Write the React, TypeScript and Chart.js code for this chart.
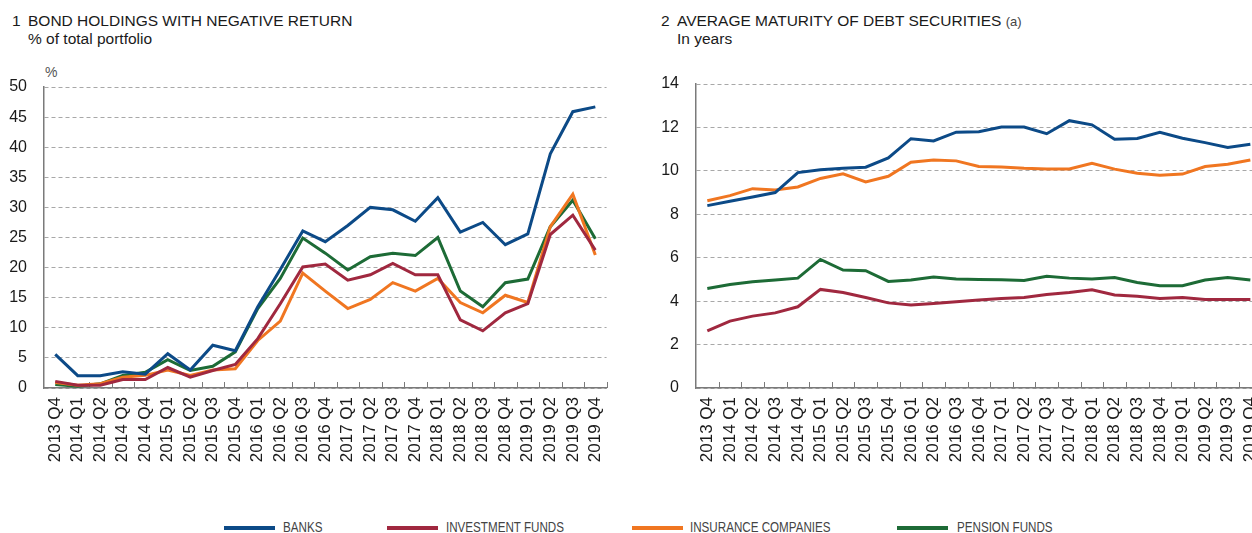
import React, { useEffect, useRef } from "react";
import { Chart, registerables } from "chart.js";

Chart.register(...registerables);

const categories = [
  "2013 Q4", "2014 Q1", "2014 Q2", "2014 Q3", "2014 Q4",
  "2015 Q1", "2015 Q2", "2015 Q3", "2015 Q4",
  "2016 Q1", "2016 Q2", "2016 Q3", "2016 Q4",
  "2017 Q1", "2017 Q2", "2017 Q3", "2017 Q4",
  "2018 Q1", "2018 Q2", "2018 Q3", "2018 Q4",
  "2019 Q1", "2019 Q2", "2019 Q3", "2019 Q4",
];

const seriesNames = ["BANKS", "INVESTMENT FUNDS", "INSURANCE COMPANIES", "PENSION FUNDS"];

// Chart 1: bond holdings with negative return (% of total portfolio)
const negBanks = [5.6, 2.05, 2.05, 2.7, 2.3, 5.7, 3.0, 7.1, 6.2, 13.5, 19.7, 26.1, 24.3, 27.0, 30.0, 29.6, 27.7, 31.6, 25.9, 27.5, 23.8, 25.6, 38.9, 45.9, 46.7];
const negInvestment = [1.1, 0.45, 0.45, 1.4, 1.4, 3.4, 1.8, 2.9, 3.9, 8.2, 14.0, 20.1, 20.6, 17.9, 18.8, 20.7, 18.8, 18.8, 11.3, 9.5, 12.5, 14.0, 25.5, 28.7, 22.9];
const negInsurance = [0.9, 0.45, 0.7, 1.8, 2.1, 3.0, 2.1, 3.0, 3.2, 7.9, 11.1, 19.1, 16.1, 13.2, 14.7, 17.5, 16.1, 18.2, 14.2, 12.5, 15.4, 14.2, 26.8, 32.2, 22.1];
const negPension = [0.6, 0.3, 0.7, 2.1, 2.6, 4.7, 2.9, 3.6, 6.0, 13.2, 18.2, 24.9, 22.4, 19.6, 21.8, 22.4, 22.0, 25.0, 16.1, 13.5, 17.5, 18.1, 26.8, 31.2, 24.8];
const negTicks = { min: 0, max: 50, step: 5 };

// Chart 2: average maturity of debt securities (years)
const matBanks = [8.4, 8.6, 8.8, 9.0, 9.92, 10.05, 10.12, 10.17, 10.6, 11.48, 11.38, 11.78, 11.8, 12.02, 12.02, 11.71, 12.31, 12.12, 11.46, 11.49, 11.77, 11.5, 11.3, 11.08, 11.23];
const matInvestment = [2.63, 3.08, 3.31, 3.46, 3.74, 4.54, 4.4, 4.17, 3.92, 3.82, 3.89, 3.97, 4.05, 4.12, 4.17, 4.31, 4.4, 4.52, 4.28, 4.23, 4.12, 4.17, 4.08, 4.08, 4.08];
const matInsurance = [8.62, 8.86, 9.18, 9.12, 9.26, 9.65, 9.86, 9.49, 9.75, 10.4, 10.5, 10.46, 10.2, 10.18, 10.12, 10.09, 10.09, 10.35, 10.08, 9.89, 9.8, 9.85, 10.2, 10.3, 10.5];
const matPension = [4.58, 4.77, 4.89, 4.97, 5.06, 5.92, 5.43, 5.4, 4.91, 4.97, 5.11, 5.02, 5.0, 4.98, 4.95, 5.15, 5.06, 5.02, 5.09, 4.86, 4.71, 4.71, 4.97, 5.09, 4.97];
const matTicks = { min: 0, max: 14, step: 2 };

const COLORS = ["#0c4a87", "#a0283f", "#f07621", "#1d6b36"];
const AXIS = "#7a7a7a";
const TEXT = "#1a1a1a";
const SANS = "'Liberation Sans', Arial, Helvetica, sans-serif";

const innerTicks = {
  id: "innerTicks",
  beforeDatasetsDraw(chart: any) {
    const xs = chart.scales.x;
    const { ctx, chartArea } = chart;
    ctx.save();
    ctx.strokeStyle = AXIS;
    ctx.lineWidth = 1;
    ctx.beginPath();
    for (let i = 0; i < categories.length; i++) {
      const px = Math.round(xs.getPixelForValue(i + 0.5)) + 0.5;
      ctx.moveTo(px, chartArea.bottom);
      ctx.lineTo(px, chartArea.bottom - 6);
    }
    ctx.stroke();
    ctx.restore();
  },
};

type Geo = { yAxisWidth: number; top: number; right: number; xAxisHeight: number };

function buildChart(canvas: HTMLCanvasElement, series: number[][], ticks: { min: number; max: number; step: number }, geo: Geo) {
  return new Chart(canvas, {
    type: "line",
    data: {
      labels: categories,
      datasets: series.map((d, i) => ({
        label: seriesNames[i],
        data: d,
        borderColor: COLORS[i],
        backgroundColor: COLORS[i],
        borderWidth: 3,
        pointRadius: 0,
        tension: 0,
        fill: false,
      })),
    },
    options: {
      animation: false,
      responsive: false,
      maintainAspectRatio: false,
      devicePixelRatio: 1,
      layout: { padding: { top: geo.top, right: geo.right, left: 0, bottom: 0 } },
      plugins: { legend: { display: false }, tooltip: { enabled: false }, title: { display: false } },
      scales: {
        x: {
          type: "category",
          offset: true,
          grid: { display: false, drawTicks: false },
          border: { display: true, color: AXIS, width: 1.5 },
          ticks: {
            autoSkip: false,
            minRotation: 90,
            maxRotation: 90,
            padding: 9,
            color: TEXT,
            font: { family: SANS, size: 17 },
          },
          afterFit: (s: any) => { s.height = geo.xAxisHeight; },
        },
        y: {
          min: ticks.min,
          max: ticks.max,
          grid: { color: "#a8a8a8", lineWidth: 1, drawTicks: false, tickLength: 0 },
          border: { display: true, color: AXIS, width: 1.5, dash: [4, 3] },
          ticks: {
            stepSize: ticks.step,
            padding: 17,
            color: TEXT,
            font: { family: SANS, size: 16 },
          },
          afterFit: (s: any) => { s.width = geo.yAxisWidth; },
        },
      },
    } as any,
    plugins: [innerTicks],
  });
}

function ChartCanvas(props: { series: number[][]; ticks: any; geo: Geo; left: number; width: number; height: number }) {
  const ref = useRef<HTMLCanvasElement>(null);
  useEffect(() => {
    if (!ref.current) return;
    const c = buildChart(ref.current, props.series, props.ticks, props.geo);
    return () => c.destroy();
  }, []);
  return (
    <canvas
      ref={ref}
      width={props.width}
      height={props.height}
      style={{ position: "absolute", left: props.left, top: 0, width: props.width, height: props.height }}
    />
  );
}

const titleStyle: React.CSSProperties = {
  position: "absolute",
  fontFamily: SANS,
  fontSize: 15.5,
  lineHeight: "17px",
  color: TEXT,
  whiteSpace: "nowrap",
};

export default function App() {
  const legendItems = [
    { line: 224, text: 283 },
    { line: 387, text: 446 },
    { line: 632, text: 690 },
    { line: 897, text: 957 },
  ];
  return (
    <div style={{ position: "absolute", left: 0, top: 0, width: 1252, height: 533, overflow: "hidden", background: "#fff" }}>
      <div style={{ ...titleStyle, left: 12, top: 12 }}>1</div>
      <div style={{ ...titleStyle, left: 28, top: 12 }}>BOND HOLDINGS WITH NEGATIVE RETURN</div>
      <div style={{ ...titleStyle, left: 28, top: 30 }}>% of total portfolio</div>
      <div style={{ ...titleStyle, left: 661, top: 12 }}>2</div>
      <div style={{ ...titleStyle, left: 677, top: 12 }}>
        AVERAGE MATURITY OF DEBT SECURITIES <span style={{ fontSize: 13, color: "#444" }}>(a)</span>
      </div>
      <div style={{ ...titleStyle, left: 677, top: 30 }}>In years</div>
      <div style={{ position: "absolute", left: 45, top: 64, fontFamily: SANS, fontSize: 14, color: "#555" }}>%</div>

      <ChartCanvas
        series={[negBanks, negInvestment, negInsurance, negPension]}
        ticks={negTicks}
        geo={{ yAxisWidth: 44, top: 87, right: 14, xAxisHeight: 92 }}
        left={0}
        width={625}
        height={480}
      />
      <ChartCanvas
        series={[matBanks, matInvestment, matInsurance, matPension]}
        ticks={matTicks}
        geo={{ yAxisWidth: 56, top: 84, right: 12, xAxisHeight: 92 }}
        left={640}
        width={640}
        height={480}
      />

      {legendItems.map((it, i) => (
        <React.Fragment key={i}>
          <div style={{ position: "absolute", left: it.line, top: 526, width: 51, height: 4, background: COLORS[i] }} />
          <div
            style={{
              position: "absolute",
              left: it.text,
              top: 519,
              fontFamily: SANS,
              fontSize: 14,
              lineHeight: "16px",
              color: "#444",
              whiteSpace: "nowrap",
              transform: "scaleX(0.83)",
              transformOrigin: "left center",
            }}
          >
            {seriesNames[i]}
          </div>
        </React.Fragment>
      ))}
    </div>
  );
}
